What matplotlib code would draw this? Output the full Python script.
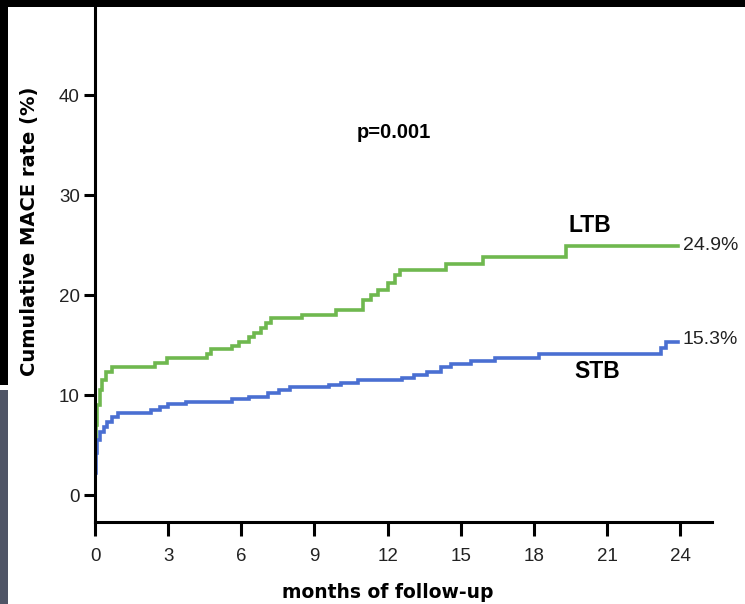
import matplotlib
matplotlib.use("Agg")
import matplotlib.pyplot as plt
from matplotlib.patches import Rectangle
from matplotlib import font_manager

# ---- data ----
ltb_months = [0, 0.05, 0.1, 0.2, 0.3, 0.45, 0.7, 2.45, 2.95, 4.6, 4.75, 5.6, 5.9, 6.3,
              6.5, 6.8, 7.0, 7.2, 8.5, 9.9, 11.0, 11.3, 11.6, 12.0, 12.3, 12.5, 14.4,
              15.9, 19.3, 23.9]
ltb_rate = [4.5, 7.0, 9.0, 10.5, 11.5, 12.3, 12.8, 13.2, 13.7, 14.1, 14.6, 14.9, 15.3, 15.8,
            16.2, 16.7, 17.2, 17.7, 18.0, 18.5, 19.5, 20.0, 20.5, 21.2, 22.0, 22.5, 23.1,
            23.8, 24.9, 24.9]

stb_months = [0, 0.03, 0.08, 0.2, 0.35, 0.5, 0.7, 0.95, 2.3, 2.65, 3.0, 3.75, 5.6, 6.3,
              7.1, 7.55, 8.0, 9.6, 10.1, 10.8, 12.6, 13.1, 13.6, 14.2, 14.6, 15.4, 16.4,
              18.2, 23.2, 23.4, 23.9]
stb_rate = [2.2, 4.2, 5.5, 6.3, 6.8, 7.3, 7.8, 8.2, 8.5, 8.8, 9.1, 9.3, 9.6, 9.8,
            10.2, 10.5, 10.8, 11.0, 11.2, 11.5, 11.7, 12.0, 12.3, 12.8, 13.1, 13.4, 13.7,
            14.1, 14.7, 15.3, 15.3]

x_ticks = [0, 3, 6, 9, 12, 15, 18, 21, 24]
y_ticks = [0, 10, 20, 30, 40]
ltb_end_label = "24.9%"
stb_end_label = "15.3%"

# ---- fonts ----
avail = {f.name for f in font_manager.fontManager.ttflist}
narrow = "Liberation Sans Narrow" if "Liberation Sans Narrow" in avail else "Liberation Sans"

W, H = 745, 604
fig = plt.figure(figsize=(W / 100, H / 100), dpi=100)
fig.patch.set_facecolor("white")

x0_px, xr_px = 95, 712
yb_px = 522
ax = fig.add_axes([x0_px / W, 1 - yb_px / H, (xr_px - x0_px) / W, (yb_px + 10) / H])
ax.set_xlim(0, 25.3)
ax.set_ylim(-2.7, 50.5)

green = "#6fb84f"
blue = "#4a6fd2"
ax.step(ltb_months, ltb_rate, where="post", color=green, lw=2.6, solid_joinstyle="miter")
ax.step(stb_months, stb_rate, where="post", color=blue, lw=2.6, solid_joinstyle="miter")

for s in ["top", "right"]:
    ax.spines[s].set_visible(False)
for s in ["left", "bottom"]:
    ax.spines[s].set_linewidth(2.2)
    ax.spines[s].set_color("black")

ax.set_xticks(x_ticks)
ax.set_yticks(y_ticks)
ax.tick_params(axis="x", direction="out", length=10, width=2.2, pad=9)
ax.tick_params(axis="y", direction="out", length=8, width=2.2, pad=3)
for lab in ax.get_xticklabels() + ax.get_yticklabels():
    lab.set_fontfamily(narrow)
    lab.set_fontsize(13.5)
    lab.set_color("#222222")

# annotations
ax.text(20.3, 25.8, "LTB", fontsize=16.5, fontweight="bold", family="Liberation Sans",
        ha="center", va="bottom")
ax.text(20.6, 12.3, "STB", fontsize=16.5, fontweight="bold", family="Liberation Sans",
        ha="center", va="center")
ax.text(12.25, 36.2, "p=0.001", fontsize=14.5, fontweight="bold", family="Liberation Sans",
        ha="center", va="center")
ax.text(24.1, ltb_rate[-1], ltb_end_label, fontsize=14, family=narrow, ha="left", va="center",
        color="#222222")
ax.text(24.1, stb_rate[-1] + 0.2, stb_end_label, fontsize=14, family=narrow, ha="left",
        va="center", color="#222222")

fig.text(30 / W, 1 - 231 / H, "Cumulative MACE rate (%)", rotation=90, fontsize=14,
         fontweight="bold", family="DejaVu Sans", ha="center", va="center")
fig.text(388 / W, 1 - 592 / H, "months of follow-up", fontsize=13.5, fontweight="bold",
         family="DejaVu Sans", ha="center", va="center")

# framing strips of the original picture
fig.patches.append(Rectangle((0, 1 - 7 / H), 1, 7 / H, transform=fig.transFigure,
                             facecolor="black", edgecolor="none", zorder=10))
fig.patches.append(Rectangle((0, 1 - 385 / H), 8 / W, 385 / H, transform=fig.transFigure,
                             facecolor="black", edgecolor="none", zorder=10))
fig.patches.append(Rectangle((0, 0), 8 / W, (H - 390) / H, transform=fig.transFigure,
                             facecolor="#4f5566", edgecolor="none", zorder=10))

fig.savefig("out.png", dpi=100, facecolor="white")
